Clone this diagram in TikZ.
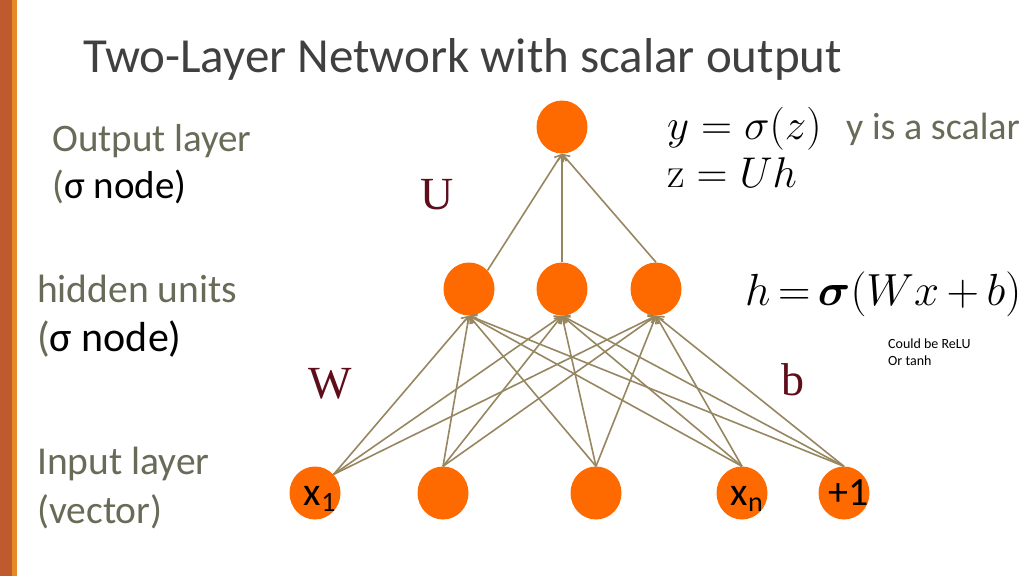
\RequirePackage{fix-cm}
\documentclass[tikz,border=0pt]{standalone}
\usepackage{amsmath,bm}
\usepackage[no-math]{fontspec}
\setmainfont{Carlito}
\newfontfamily\serifU{Liberation Serif}
\usetikzlibrary{arrows.meta,shapes.geometric}
\definecolor{nodeor}{HTML}{FF6A00}
\definecolor{edgec}{HTML}{978760}
\definecolor{labg}{HTML}{676B57}
\definecolor{titlec}{HTML}{404040}
\definecolor{wmaroon}{HTML}{5E0E1B}
\definecolor{bardark}{HTML}{BE5A2D}
\definecolor{barlight}{HTML}{E88928}
\newcommand{\lowtxt}[1]{\raisebox{-12pt}[0pt][0pt]{\makebox[0pt]{\hspace*{10pt}#1}}}
\begin{document}
\begin{tikzpicture}[x=1pt,y=-1pt,
  neuron/.style={ellipse, fill=nodeor, draw=none, minimum width=51pt, minimum height=53pt, inner sep=0pt, font=\fontsize{40}{44}\selectfont},
  conn/.style={draw=edgec, line width=1.6pt, -{Straight Barb[length=6pt,width=9pt]}},
  side/.style={anchor=base west, text=labg, inner sep=0pt},
  plain/.style={anchor=base west, inner sep=0pt},
  mlet/.style={anchor=base, inner sep=0pt, text=wmaroon, font=\serifU\fontsize{46}{50}\selectfont}
]
\useasboundingbox (0,0) rectangle (1024,576);
\fill[white] (0,0) rectangle (1024,576);
\fill[bardark] (0,0) rectangle (12,576);
\fill[barlight] (12,0) rectangle (17,576);

\node[plain, text=titlec, font=\fontsize{49}{56}\selectfont] (title) at (83,72) {Two-Layer Network with scalar output};

\node[side, font=\fontsize{39}{46}\selectfont] (outl) at (52,151) {Output layer};
\node[plain, font=\fontsize{39}{46}\selectfont] (outs) at (52,198) {\textcolor{labg}{(}σ node)};
\node[side, font=\fontsize{39.5}{46}\selectfont] (hidl) at (37,302) {hidden units};
\node[plain, font=\fontsize{42}{48}\selectfont] (hids) at (37,351) {\textcolor{labg}{(}σ node)};
\node[side, font=\fontsize{39.5}{46}\selectfont] (inl) at (37,474) {Input layer};
\node[side, font=\fontsize{39.5}{46}\selectfont] (inv) at (37,523) {(vector)};

\node[neuron] (out) at (562,127) {};
\node[neuron] (h1) at (469,289) {};
\node[neuron] (h2) at (562,289) {};
\node[neuron] (h3) at (656,289) {};
\node[neuron] (in1) at (315,493) {\lowtxt{x\textsubscript{1}}};
\node[neuron] (in2) at (443,493) {};
\node[neuron] (in3) at (596,493) {};
\node[neuron] (in4) at (742,493) {\lowtxt{x\textsubscript{n}}};
\node[neuron] (in5) at (844,493) {\lowtxt{+1}};

\foreach \h in {h1,h2,h3} {
  \draw[conn] (in1.45) -- (\h.south);
  \foreach \i in {in2,in3,in4,in5} {
    \draw[conn] (\i.north) -- (\h.south);
  }
}
\draw[conn] (h1.45) -- (out.south);
\draw[conn] (h2.north) -- (out.south);
\draw[conn] (h3.north) -- (out.south);

\node[mlet] (U) at (437,209) {U};
\node[mlet] (W) at (330,398) {W};
\node[mlet] (b) at (793,395) {b};

\node[plain, font=\fontsize{43}{48}\selectfont] (eqy) at (667,139) {$y=\sigma(z)$};
\node[side, font=\fontsize{38}{46}\selectfont] (scal) at (846,139) {y is a scalar};
\node[plain, font=\fontsize{43}{48}\selectfont] (eqz) at (667,187) {$\mathrm{z}=Uh$};
\node[plain, font=\fontsize{45}{50}\selectfont] (eqh) at (745,305) {$h\,{=}\,\bm{\sigma}(Wx\,{+}\,b)$};
\node[plain, font=\fontsize{14}{16}\selectfont] (c1) at (888,348) {Could be ReLU};
\node[plain, font=\fontsize{14}{16}\selectfont] (c2) at (888,365) {Or tanh};
\end{tikzpicture}
\end{document}
